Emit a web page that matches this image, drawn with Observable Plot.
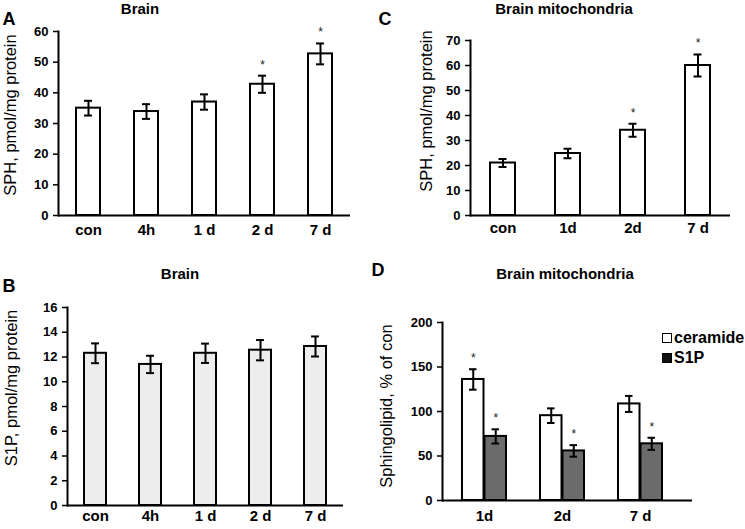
<!DOCTYPE html>
<html><head><meta charset="utf-8">
<script src="https://cdn.jsdelivr.net/npm/d3@7"></script>
<script src="https://cdn.jsdelivr.net/npm/@observablehq/plot@0.6"></script>
<style>
body{margin:0;background:#fff}
#root{position:relative;width:745px;height:529px;font-family:"Liberation Sans",Arial,sans-serif;color:#000;overflow:hidden;background:#fff}
#root svg{position:absolute}
.abs{position:absolute;white-space:nowrap;line-height:1}
.title{font-weight:bold;font-size:15px;transform:translate(-50%,-50%)}
.letter{font-weight:bold;font-size:18px;transform:translate(-50%,-50%)}
.ylab{font-size:16.5px;transform:translate(-50%,-50%) rotate(-90deg)}
.leg{font-weight:bold;font-size:16px;transform:translate(0,-50%);display:flex;align-items:center}
.sw{display:inline-block;width:10px;height:10px;box-sizing:border-box;border:1.5px solid #000;margin-right:2px}
#root svg [aria-label="y-axis tick label"] text,#root svg [aria-label="x-axis tick label"] text{font-weight:bold}
</style></head><body><div id="root"></div>
<script>
// ---- Panel A: Brain SPH ----
const catsA = ["con", "4h", "1 d", "2 d", "7 d"];
const valsA = [35.0, 33.9, 37.0, 42.8, 52.7];
const errA  = [2.4, 2.4, 2.5, 2.8, 3.4];
const sigA  = [false, false, false, true, true];
const ticksA = [0, 10, 20, 30, 40, 50, 60];

// ---- Panel B: Brain S1P ----
const catsB = ["con", "4h", "1 d", "2 d", "7 d"];
const valsB = [12.3, 11.4, 12.3, 12.55, 12.85];
const errB  = [0.8, 0.7, 0.78, 0.82, 0.81];
const sigB  = [false, false, false, false, false];
const ticksB = [0, 2, 4, 6, 8, 10, 12, 14, 16];

// ---- Panel C: Brain mitochondria SPH ----
const catsC = ["con", "1d", "2d", "7 d"];
const valsC = [21.0, 24.8, 34.1, 60.0];
const errC  = [1.6, 1.9, 2.6, 4.4];
const sigC  = [false, false, true, true];
const ticksC = [0, 10, 20, 30, 40, 50, 60, 70];

// ---- Panel D: Brain mitochondria sphingolipids, % of con ----
const groupsD = ["1d", "2d", "7 d"];
const ceramideD = [136, 95.3, 108.5];
const ceramideErrD = [11.5, 8.2, 9.0];
const ceramideSigD = [true, false, false];
const s1pD = [72, 55.7, 63.7];
const s1pErrD = [8.0, 6.5, 6.8];
const s1pSigD = [true, true, true];
const ticksD = [0, 50, 100, 150, 200];
const seriesD = ["ceramide", "S1P"];

const FONT = '"Liberation Sans", Arial, sans-serif';
const root = document.getElementById("root");

function place(el, left, top) {
  el.style.left = left + "px";
  el.style.top = top + "px";
  root.appendChild(el);
}
function label(cls, text, x, y) {
  const d = document.createElement("div");
  d.className = "abs " + cls;
  d.textContent = text;
  d.style.left = x + "px";
  d.style.top = y + "px";
  root.appendChild(d);
}

function barPanel(o) {
  const data = o.cats.map((c, i) => ({cat: c, v: o.vals[i], e: o.errs[i], s: o.sig[i]}));
  const bw = (o.width - o.mL - o.mR) / o.cats.length * (1 - o.pad);
  const capInset = (bw - 8) / 2;
  const plot = Plot.plot({
    width: o.width, height: o.height,
    marginLeft: o.mL, marginRight: o.mR, marginTop: o.mT, marginBottom: o.mB,
    style: {fontFamily: FONT, background: "transparent", color: "#000", overflow: "visible"},
    x: {domain: o.cats, paddingInner: o.pad, paddingOuter: o.pad / 2, label: null},
    y: {domain: [0, o.yMax], label: null},
    marks: [
      Plot.barY(data, {x: "cat", y: "v", fill: o.fill, stroke: "#000", strokeWidth: 2}),
      Plot.ruleX(data, {x: "cat", y1: d => d.v - d.e, y2: d => d.v + d.e, stroke: "#000", strokeWidth: 2}),
      Plot.tickY(data, {x: "cat", y: d => d.v + d.e, insetLeft: capInset, insetRight: capInset, stroke: "#000", strokeWidth: 2}),
      Plot.tickY(data, {x: "cat", y: d => d.v - d.e, insetLeft: capInset, insetRight: capInset, stroke: "#000", strokeWidth: 2}),
      Plot.text(data.filter(d => d.s), {x: "cat", y: d => d.v + d.e, text: () => "*", dy: -11, fontSize: 12, fill: "#222"}),
      Plot.axisY({ticks: o.yTicks, tickSize: 5, tickPadding: 5, fontSize: 13, label: null, stroke: "#000", strokeWidth: 1.5}),
      Plot.axisX({tickSize: 0, tickPadding: o.xPad, fontSize: 15, label: null}),
      Plot.ruleY([0], {stroke: "#000", strokeWidth: 2}),
      Plot.frame({anchor: "left", stroke: "#000", strokeWidth: 2})
    ]
  });
  place(plot, o.left, o.top);
}

barPanel({cats: catsA, vals: valsA, errs: errA, sig: sigA, yMax: 60, yTicks: ticksA, fill: "#fff",
  left: 0, top: 0, width: 372, height: 260, mL: 58, mR: 22, mT: 31, mB: 45, pad: 0.59, xPad: 9});
barPanel({cats: catsB, vals: valsB, errs: errB, sig: sigB, yMax: 16, yTicks: ticksB, fill: "#ededed",
  left: 0, top: 260, width: 372, height: 269, mL: 67, mR: 29, mT: 47, mB: 24, pad: 0.6, xPad: 5});
barPanel({cats: catsC, vals: valsC, errs: errC, sig: sigC, yMax: 70, yTicks: ticksC, fill: "#fff",
  left: 372, top: 0, width: 373, height: 260, mL: 98, mR: 15, mT: 40, mB: 45, pad: 0.615, xPad: 7});

// Panel D (grouped bars)
(function () {
  const rows = [];
  groupsD.forEach((g, i) => {
    rows.push({g, series: "ceramide", v: ceramideD[i], e: ceramideErrD[i], s: ceramideSigD[i]});
    rows.push({g, series: "S1P", v: s1pD[i], e: s1pErrD[i], s: s1pSigD[i]});
  });
  const width = 373, height = 269, mL = 70, mR = 53, mT = 62, mB = 29;
  const po = 0.0825;
  const step = (width - mL - mR) / (groupsD.length + 2 * po);
  const barW = 22.5;
  const half = step / 2;
  const outer = half - barW;          // inset on the outer side of each pair
  const cap = 7;                      // cap inset within a bar
  const fills = {ceramide: "#fff", S1P: "#6b6b6b"};
  const cer = rows.filter(d => d.series === "ceramide");
  const s1p = rows.filter(d => d.series === "S1P");
  const marks = [];
  const sides = [
    {data: cer, iL: outer, iR: half, dx: -barW / 2},
    {data: s1p, iL: half, iR: outer, dx: barW / 2}
  ];
  for (const s of sides) {
    marks.push(
      Plot.barY(s.data, {x: "g", y: "v", fill: d => fills[d.series], stroke: "#000", strokeWidth: 2, insetLeft: s.iL, insetRight: s.iR}),
      Plot.ruleX(s.data, {x: "g", y1: d => d.v - d.e, y2: d => d.v + d.e, dx: s.dx, stroke: "#000", strokeWidth: 2}),
      Plot.tickY(s.data, {x: "g", y: d => d.v + d.e, insetLeft: s.iL + cap, insetRight: s.iR + cap, stroke: "#000", strokeWidth: 2}),
      Plot.tickY(s.data, {x: "g", y: d => d.v - d.e, insetLeft: s.iL + cap, insetRight: s.iR + cap, stroke: "#000", strokeWidth: 2}),
      Plot.text(s.data.filter(d => d.s), {x: "g", y: d => d.v + d.e, dx: s.dx, text: () => "*", dy: -11, fontSize: 12, fill: "#222"})
    );
  }
  const plot = Plot.plot({
    width, height, marginLeft: mL, marginRight: mR, marginTop: mT, marginBottom: mB,
    style: {fontFamily: FONT, background: "transparent", color: "#000", overflow: "visible"},
    x: {domain: groupsD, paddingInner: 0, paddingOuter: po, align: 0.19, label: null},
    y: {domain: [0, 200], label: null},
    marks: [
      ...marks,
      Plot.axisY({ticks: ticksD, tickSize: 5, tickPadding: 5, fontSize: 13, label: null, stroke: "#000", strokeWidth: 1.5}),
      Plot.axisX({tickSize: 0, tickPadding: 10, fontSize: 15, label: null}),
      Plot.ruleY([0], {stroke: "#000", strokeWidth: 2}),
      Plot.frame({anchor: "left", stroke: "#000", strokeWidth: 2})
    ]
  });
  place(plot, 372, 260);
})();

// Titles, panel letters, axis labels
label("title", "Brain", 140, 8);
label("title", "Brain mitochondria", 564, 8);
label("title", "Brain", 180, 273);
label("title", "Brain mitochondria", 565, 273);
label("letter", "A", 9, 19);
label("letter", "C", 385, 19);
label("letter", "B", 9, 286);
label("letter", "D", 378, 270);
label("ylab", "SPH, pmol/mg protein", 10, 115);
label("ylab", "SPH, pmol/mg protein", 426, 111);
label("ylab", "S1P, pmol/mg protein", 11, 388);
label("ylab", "Sphingolipid, % of con", 386, 406);

// Legend for panel D
const legendColors = ["#fff", "#111"];
seriesD.forEach((s, i) => {
  const d = document.createElement("div");
  d.className = "abs leg";
  d.style.left = "662px";
  d.style.top = (338 + i * 20) + "px";
  const sw = document.createElement("span");
  sw.className = "sw";
  sw.style.background = legendColors[i];
  d.appendChild(sw);
  d.appendChild(document.createTextNode(s));
  root.appendChild(d);
});
</script></body></html>
